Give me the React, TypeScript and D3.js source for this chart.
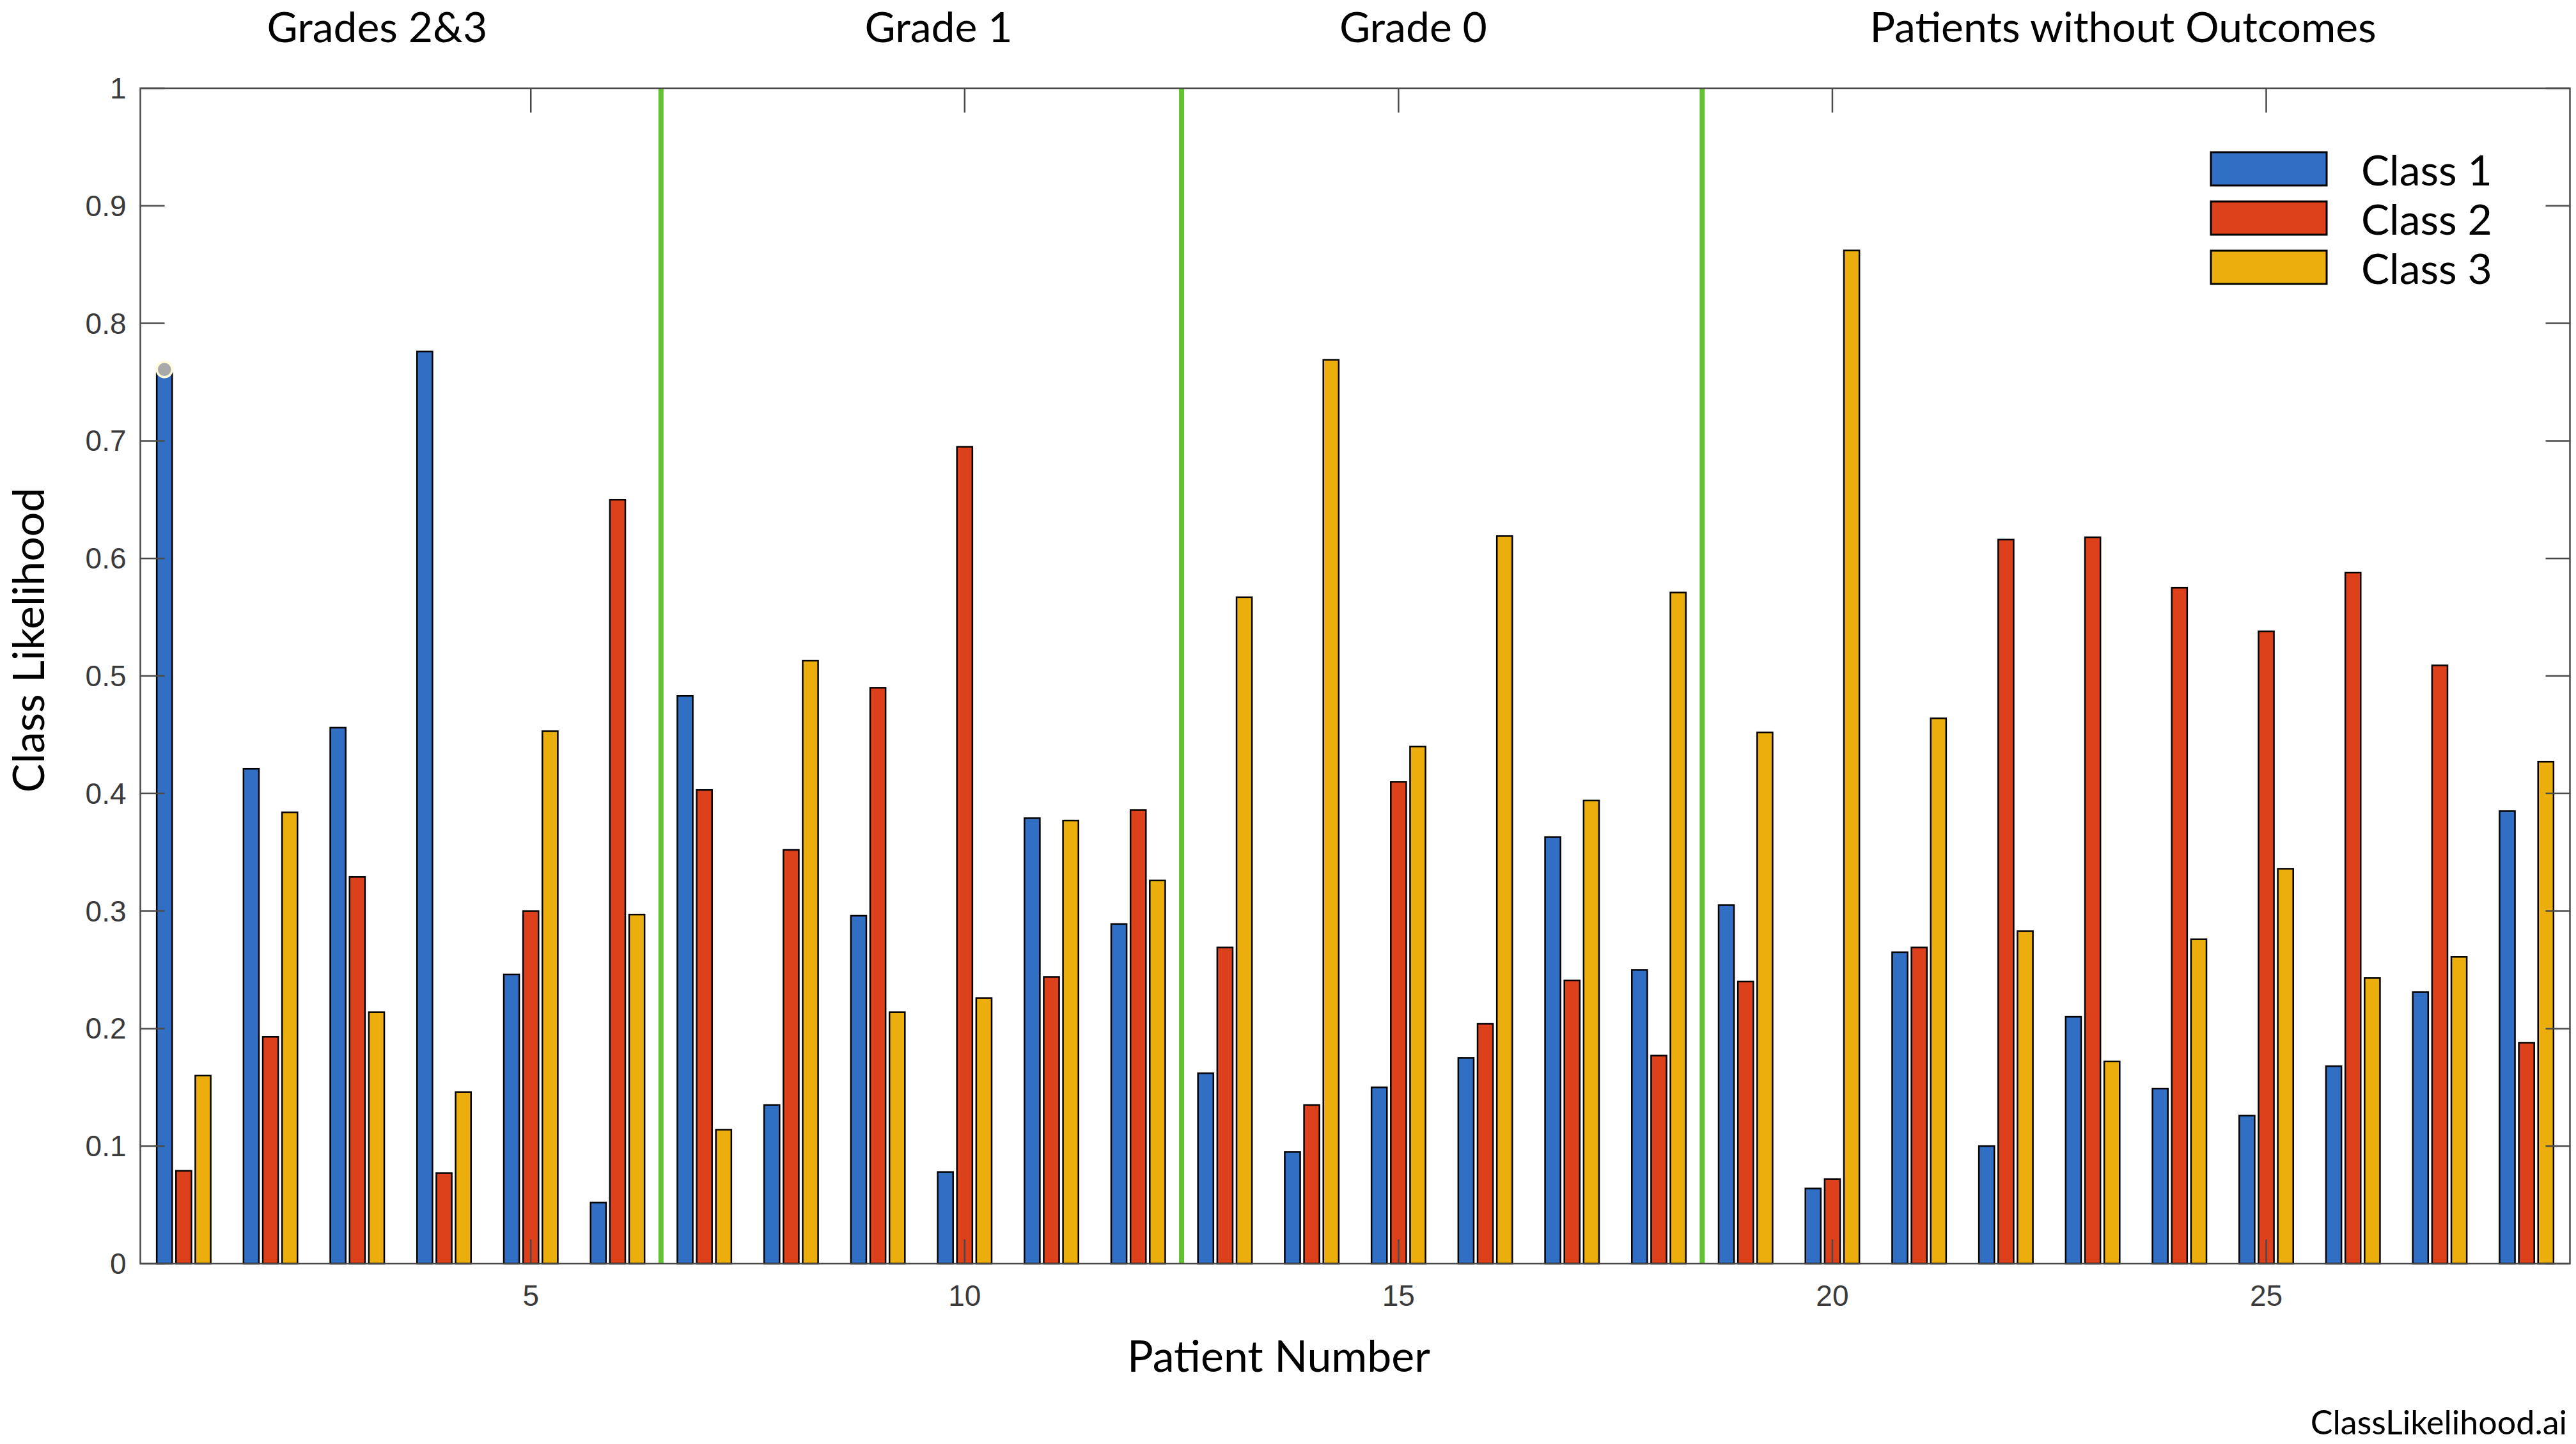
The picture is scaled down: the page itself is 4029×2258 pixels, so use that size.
import React from "react";
import * as d3 from "d3";

const patients = [1,2,3,4,5,6,7,8,9,10,11,12,13,14,15,16,17,18,19,20,21,22,23,24,25,26,27,28];
const class1 = [0.758,0.421,0.456,0.776,0.246,0.052,0.483,0.135,0.296,0.078,0.379,0.289,0.162,0.095,0.150,0.175,0.363,0.250,0.305,0.064,0.265,0.100,0.210,0.149,0.126,0.168,0.231,0.385];
const class2 = [0.079,0.193,0.329,0.077,0.300,0.650,0.403,0.352,0.490,0.695,0.244,0.386,0.269,0.135,0.410,0.204,0.241,0.177,0.240,0.072,0.269,0.616,0.618,0.575,0.538,0.588,0.509,0.188];
const class3 = [0.160,0.384,0.214,0.146,0.453,0.297,0.114,0.513,0.214,0.226,0.377,0.326,0.567,0.769,0.440,0.619,0.394,0.571,0.452,0.862,0.464,0.283,0.172,0.276,0.336,0.243,0.261,0.427];
const seriesNames = ["Class 1", "Class 2", "Class 3"];
const xTicks = [5, 10, 15, 20, 25];
const yTicks = [0, 0.1, 0.2, 0.3, 0.4, 0.5, 0.6, 0.7, 0.8, 0.9, 1];
const dividers = [6.5, 12.5, 18.5];
const sectionNames = ["Grades 2&3", "Grade 1", "Grade 0", "Patients without Outcomes"];

// layout (not data)
const W = 4029, H = 2258;
const LEFT = 219.5, RIGHT = 4019.5, TOP = 138, BOTTOM = 1976;
const sectionLabelX = [3.23, 9.70, 15.17, 23.35];
const colors = ["#306FC3", "#DC411B", "#EBAE0D"];
const MAIN_FONT = "Lato, 'Open Sans', sans-serif";
const TICK_FONT = "'Liberation Sans', Arial, Helvetica, sans-serif";
const AXIS_COLOR = "#4a4a4a";
const TICK_LEN = 38;

export default function App() {
  const x = d3.scaleLinear().domain([0.5, 28.5]).range([LEFT, RIGHT]);
  const y = d3.scaleLinear().domain([0, 1]).range([BOTTOM, TOP]);
  const series = [class1, class2, class3];
  const nGroups = series.length;
  const groupWidth = Math.min(0.8, nGroups / (nGroups + 1.5));
  const step = groupWidth / nGroups;
  const barW = step * 0.8;
  const unit = x(1) - x(0);

  const fmt = (v: number) => String(+v.toFixed(1));

  return (
    <svg
      width={W}
      height={H}
      viewBox={`0 0 ${W} ${H}`}
      style={{ position: "absolute", left: 0, top: 0, display: "block", background: "#fff" }}
    >
      <rect x={0} y={0} width={W} height={H} fill="#fff" />

      {/* bars */}
      {series.map((vals, si) => (
        <g key={si}>
          {patients.map((p, i) => {
            const cx = x(p + (si - (nGroups - 1) / 2) * step);
            const v = vals[i];
            return (
              <rect
                key={p}
                x={cx - (barW * unit) / 2}
                y={y(v)}
                width={barW * unit}
                height={y(0) - y(v)}
                fill={colors[si]}
                stroke="#000"
                strokeWidth={2.5}
              />
            );
          })}
        </g>
      ))}

      {/* data tip marker on first bar */}
      <circle
        cx={x(patients[0] - step)}
        cy={y(class1[0]) - 5}
        r={12}
        fill="#a9a9a9"
        stroke="#fffbd8"
        strokeWidth={3.5}
      />

      {/* group dividers */}
      {dividers.map((d) => (
        <line key={d} x1={x(d)} x2={x(d)} y1={TOP} y2={BOTTOM} stroke="#62C233" strokeWidth={8} />
      ))}

      {/* axes box */}
      <rect x={LEFT} y={TOP} width={RIGHT - LEFT} height={BOTTOM - TOP} fill="none" stroke={AXIS_COLOR} strokeWidth={2.5} />

      {/* y ticks left & right */}
      {yTicks.map((t) => (
        <g key={t}>
          <line x1={LEFT} x2={LEFT + TICK_LEN} y1={y(t)} y2={y(t)} stroke={AXIS_COLOR} strokeWidth={2.5} />
          <line x1={RIGHT} x2={RIGHT - TICK_LEN} y1={y(t)} y2={y(t)} stroke={AXIS_COLOR} strokeWidth={2.5} />
          <text
            x={LEFT - 22}
            y={y(t)}
            textAnchor="end"
            dominantBaseline="central"
            fontFamily={TICK_FONT}
            fontSize={46}
            fill="#3a3a3a"
          >
            {fmt(t)}
          </text>
        </g>
      ))}

      {/* x ticks bottom & top */}
      {xTicks.map((t) => (
        <g key={t}>
          <line x1={x(t)} x2={x(t)} y1={BOTTOM} y2={BOTTOM - TICK_LEN} stroke={AXIS_COLOR} strokeWidth={2.5} />
          <line x1={x(t)} x2={x(t)} y1={TOP} y2={TOP + TICK_LEN} stroke={AXIS_COLOR} strokeWidth={2.5} />
          <text x={x(t)} y={2042} textAnchor="middle" fontFamily={TICK_FONT} fontSize={46} fill="#3a3a3a">
            {t}
          </text>
        </g>
      ))}

      {/* section titles */}
      {sectionNames.map((s, i) => (
        <text key={s} x={x(sectionLabelX[i])} y={66} textAnchor="middle" fontFamily={MAIN_FONT} fontSize={66} fill="#000">
          {s}
        </text>
      ))}

      {/* axis labels */}
      <text x={2000} y={2145} textAnchor="middle" fontFamily={MAIN_FONT} fontSize={68} fill="#000">
        Patient Number
      </text>
      <text
        transform="translate(69,1001) rotate(-90)"
        textAnchor="middle"
        fontFamily={MAIN_FONT}
        fontSize={68}
        fill="#000"
      >
        Class Likelihood
      </text>

      {/* legend */}
      {seriesNames.map((n, i) => (
        <g key={n} transform={`translate(3458, ${238 + i * 77})`}>
          <rect x={0} y={0} width={181} height={52} fill={colors[i]} stroke="#000" strokeWidth={3} />
          <text x={235} y={26} dominantBaseline="central" fontFamily={MAIN_FONT} fontSize={66} fill="#000">
            {n}
          </text>
        </g>
      ))}

      {/* watermark */}
      <text x={4015} y={2243} textAnchor="end" fontFamily={MAIN_FONT} fontSize={52} fill="#000">
        ClassLikelihood.ai
      </text>
    </svg>
  );
}
